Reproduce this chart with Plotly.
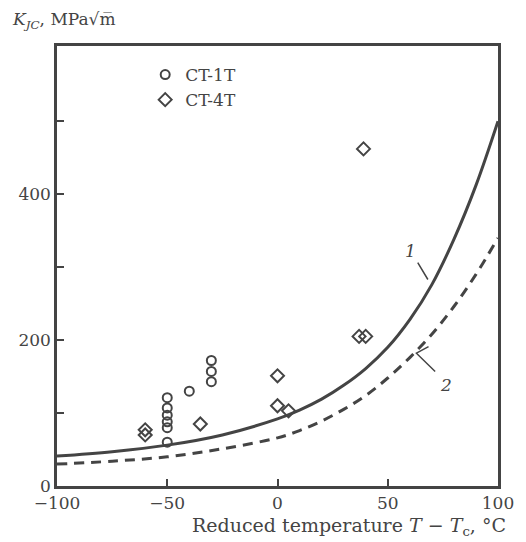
import plotly.graph_objects as go

# CT-1T specimens (open circles)
ct1_x = [-50, -50, -50, -50, -50, -50, -40, -30, -30, -30]
ct1_y = [121, 107, 97, 88, 80, 60, 130, 172, 157, 143]
# CT-4T specimens (open diamonds)
ct4_x = [-60, -60, -35, 0, 0, 5, 37, 40, 39]
ct4_y = [77, 70, 85, 151, 110, 103, 205, 205, 462]

# Curve 1 (solid)
c1_x = [-100, -75, -50, -25, 0, 10, 20, 30, 40, 50, 60, 70, 80, 90, 100]
c1_y = [41, 47, 56, 70, 92, 104, 119, 138, 161, 190, 228, 276, 338, 412, 500]
# Curve 2 (dashed)
c2_x = [-100, -75, -50, -25, 0, 10, 20, 30, 40, 50, 60, 70, 80, 90, 100]
c2_y = [30, 34, 40, 51, 66, 76, 89, 105, 124, 148, 176, 208, 246, 290, 340]

x_ticks = [-100, -50, 0, 50, 100]
y_ticks = [0, 200, 400]

INK = "#444444"
FONT = "DejaVu Serif"

fig = go.Figure()
fig.add_trace(go.Scatter(x=c1_x, y=c1_y, mode="lines",
                         line=dict(color=INK, width=3, shape="spline", smoothing=1.0),
                         showlegend=False, hoverinfo="skip"))
fig.add_trace(go.Scatter(x=c2_x, y=c2_y, mode="lines",
                         line=dict(color=INK, width=3, shape="spline", smoothing=1.0, dash="10px,7px"),
                         showlegend=False, hoverinfo="skip"))
fig.add_trace(go.Scatter(x=ct1_x, y=ct1_y, mode="markers", name="CT-1T",
                         marker=dict(symbol="circle-open", size=9, color=INK, line=dict(width=2, color=INK))))
fig.add_trace(go.Scatter(x=ct4_x, y=ct4_y, mode="markers", name="CT-4T",
                         marker=dict(symbol="diamond-open", size=10, color=INK, line=dict(width=2, color=INK))))

# curve labels
fig.add_annotation(x=68.2, y=283, ax=60.5, ay=322, axref="x", ayref="y", xref="x", yref="y",
                   text="<i>1</i>", showarrow=True, arrowhead=0, arrowwidth=1.5, arrowcolor=INK,
                   font=dict(family=FONT, size=17, color=INK))
fig.add_shape(type="path", path="M 68.5 191 L 63 182 L 71.5 157", line=dict(color=INK, width=1.5))
fig.add_annotation(x=76.5, y=138, text="<i>2</i>", showarrow=False,
                   font=dict(family=FONT, size=17, color=INK))

# axis titles
fig.add_annotation(xref="paper", yref="paper", x=-0.107, y=1.059, xanchor="left", yanchor="middle",
                   text="<i>K</i><sub><i>JC</i></sub>, MPa√m\u0305", showarrow=False,
                   font=dict(family=FONT, size=17, color=INK))
fig.add_annotation(xref="paper", yref="paper", x=1.022, y=-0.093, xanchor="right", yanchor="middle",
                   text="Reduced temperature <i>T</i> − <i>T</i><sub>c</sub>, °C", showarrow=False,
                   font=dict(family=FONT, size=19, color=INK))

fig.update_xaxes(range=[-100, 100], tickvals=x_ticks, ticks="inside", ticklen=7, tickwidth=2,
                 tickcolor=INK, showline=True, linewidth=2.5, linecolor=INK, mirror=True,
                 showgrid=False, zeroline=False, tickfont=dict(family=FONT, size=17, color=INK))
fig.update_yaxes(range=[0, 603], tickvals=y_ticks, ticks="inside", ticklen=7, tickwidth=2,
                 tickcolor=INK, showline=True, linewidth=2.5, linecolor=INK, mirror=True,
                 showgrid=False, zeroline=False, tickfont=dict(family=FONT, size=17, color=INK),
                 minor=dict(tickvals=[100, 300, 500], ticks="inside", ticklen=7, tickwidth=2, tickcolor=INK))

fig.update_layout(width=526, height=542, margin=dict(l=57, r=23, t=46, b=56),
                  plot_bgcolor="white", paper_bgcolor="white",
                  legend=dict(x=0.2, y=0.975, xanchor="left", yanchor="top", bgcolor="rgba(0,0,0,0)",
                              font=dict(family=FONT, size=17, color=INK), tracegroupgap=0,
                              itemwidth=30))
fig.write_html("out.html")
